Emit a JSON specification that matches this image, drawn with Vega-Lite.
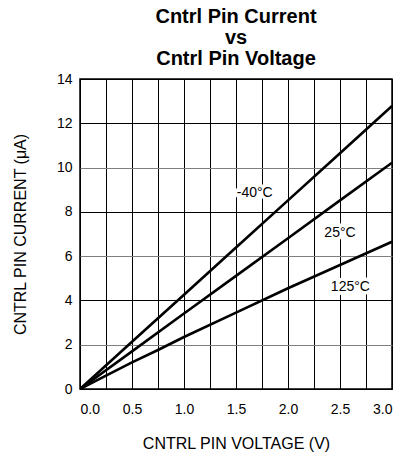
{
  "$schema": "https://vega.github.io/schema/vega-lite/v6.json",
  "width": 312,
  "height": 310,
  "autosize": "none",
  "padding": {"left": 80, "top": 79, "right": 14, "bottom": 65},
  "background": "white",
  "config": {
    "font": "Liberation Sans",
    "view": {"stroke": "black", "strokeWidth": 1.5},
    "axis": {"labelFont": "Liberation Sans", "titleFont": "Liberation Sans", "labelColor": "black", "titleColor": "black"}
  },
  "title": {
    "text": ["Cntrl Pin Current", "vs", "Cntrl Pin Voltage"],
    "font": "Liberation Sans",
    "fontSize": 20,
    "fontWeight": "bold",
    "lineHeight": 21,
    "anchor": "middle",
    "offset": 3,
    "color": "black"
  },
  "datasets": {
    "curves": [
      {"v": 0, "i": 0, "t": "-40"},
      {"v": 0.5, "i": 2.13, "t": "-40"},
      {"v": 1.0, "i": 4.26, "t": "-40"},
      {"v": 1.5, "i": 6.39, "t": "-40"},
      {"v": 2.0, "i": 8.52, "t": "-40"},
      {"v": 2.5, "i": 10.65, "t": "-40"},
      {"v": 3.0, "i": 12.78, "t": "-40"},
      {"v": 0, "i": 0, "t": "25"},
      {"v": 0.5, "i": 1.70, "t": "25"},
      {"v": 1.0, "i": 3.41, "t": "25"},
      {"v": 1.5, "i": 5.11, "t": "25"},
      {"v": 2.0, "i": 6.81, "t": "25"},
      {"v": 2.5, "i": 8.52, "t": "25"},
      {"v": 3.0, "i": 10.22, "t": "25"},
      {"v": 0, "i": 0, "t": "125"},
      {"v": 0.25, "i": 0.6, "t": "125"},
      {"v": 0.5, "i": 1.2, "t": "125"},
      {"v": 0.75, "i": 1.76, "t": "125"},
      {"v": 1.0, "i": 2.35, "t": "125"},
      {"v": 1.5, "i": 3.45, "t": "125"},
      {"v": 2.0, "i": 4.55, "t": "125"},
      {"v": 2.5, "i": 5.6, "t": "125"},
      {"v": 3.0, "i": 6.65, "t": "125"}
    ],
    "labels": [
      {"v": 1.68, "i": 8.86, "label": "-40°C"},
      {"v": 2.5, "i": 7.06, "label": "25°C"},
      {"v": 2.6, "i": 4.62, "label": "125°C"}
    ]
  },
  "encoding": {
    "x": {
      "field": "v", "type": "quantitative",
      "scale": {"domain": [0, 3], "nice": false},
      "axis": {
        "values": [0, 0.25, 0.5, 0.75, 1, 1.25, 1.5, 1.75, 2, 2.25, 2.5, 2.75, 3],
        "labelExpr": "(datum.value * 2) % 1 == 0 ? format(datum.value, '.1f') : ''",
        "labelOverlap": false,
        "grid": true, "gridColor": "black", "gridOpacity": 1, "gridWidth": 1,
        "ticks": false, "domain": false,
        "labelFontSize": 14, "labelPadding": 13,
        "title": "CNTRL PIN VOLTAGE (V)", "titleFontSize": 16, "titleFontWeight": "normal", "titlePadding": 19
      }
    },
    "y": {
      "field": "i", "type": "quantitative",
      "scale": {"domain": [0, 14], "nice": false},
      "axis": {
        "values": [0, 2, 4, 6, 8, 10, 12, 14],
        "grid": true,
        "gridColor": {"condition": {"test": "datum.value == 2 || datum.value == 6 || datum.value == 10", "value": "#7f7f7f"}, "value": "black"},
        "gridOpacity": 1, "gridWidth": 1,
        "ticks": false, "domain": false,
        "labelFontSize": 14, "labelPadding": 8,
        "title": "CNTRL PIN CURRENT (μA)", "titleFontSize": 16, "titleFontWeight": "normal", "titlePadding": 28
      }
    }
  },
  "layer": [
    {
      "data": {"name": "curves"},
      "mark": {"type": "line", "color": "black", "strokeWidth": 2.6, "clip": true},
      "encoding": {
        "detail": {"field": "t", "type": "nominal"}
      }
    },
    {
      "data": {"name": "labels"},
      "mark": {"type": "text", "fontSize": 14, "font": "Liberation Sans", "color": "white", "stroke": "white", "strokeWidth": 7, "align": "center", "baseline": "middle"},
      "encoding": {
        "text": {"field": "label"}
      }
    },
    {
      "data": {"name": "labels"},
      "mark": {"type": "text", "fontSize": 14, "font": "Liberation Sans", "color": "black", "align": "center", "baseline": "middle"},
      "encoding": {
        "text": {"field": "label"}
      }
    }
  ]
}
